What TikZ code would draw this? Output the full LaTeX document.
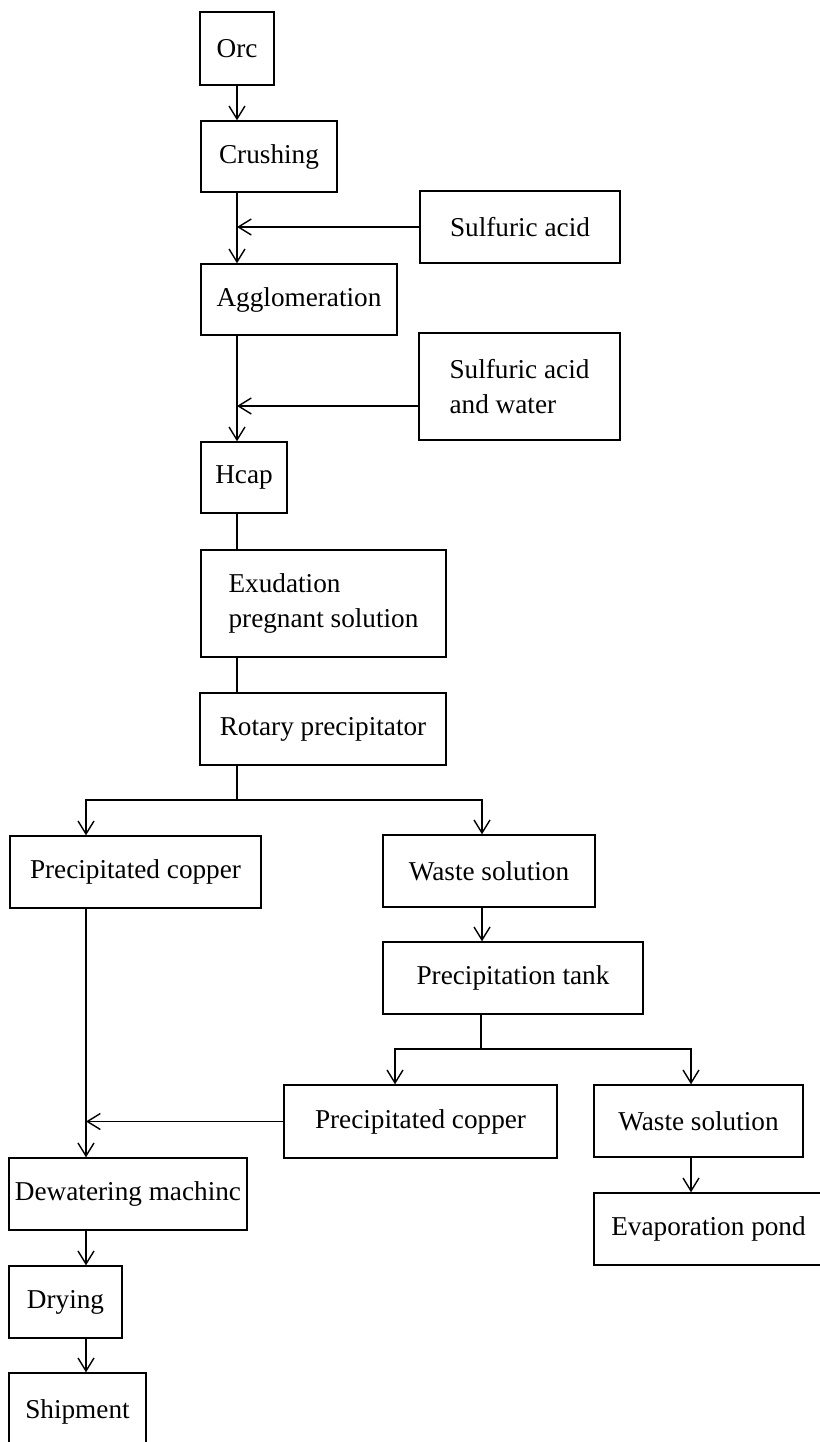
\documentclass[tikz,border=0pt]{standalone}
\usepackage{fontspec}
\setmainfont{Liberation Serif}
\usepackage{tikz}
\usetikzlibrary{arrows.meta}

\begin{document}
\begin{tikzpicture}[x=0.02cm,y=-0.02cm,
  box/.style={draw,line width=0.8pt,inner sep=1pt,font=\fontsize{15.5}{20}\selectfont},
  flow/.style={line width=0.8pt,-{Straight Barb[length=2.6mm,width=3.2mm,line width=0.8pt]}},
  link/.style={line width=0.8pt}]
\useasboundingbox (0,0) rectangle (820,1442);
% main column
\node[box,minimum width=1.48cm,minimum height=1.46cm] (ore) at (237,48.5) {Orc};
\node[box,minimum width=2.72cm,minimum height=1.42cm] (crush) at (269,156.5) {Crushing};
\node[box,minimum width=4.0cm,minimum height=1.44cm] (acid) at (520,227) {Sulfuric acid};
\node[box,minimum width=3.92cm,minimum height=1.42cm] (agglo) at (299,299.5) {Agglomeration};
\node[box,minimum width=4.02cm,minimum height=2.14cm,align=left] (acidw) at (519.5,386.5) {Sulfuric acid\\and water};
\node[box,minimum width=1.72cm,minimum height=1.42cm] (heap) at (244,477.5) {Hcap};
\node[box,minimum width=4.9cm,minimum height=2.14cm,align=left] (exud) at (323.5,603.5) {Exudation\\pregnant solution};
\node[box,minimum width=4.92cm,minimum height=1.44cm] (rotary) at (323,729) {Rotary precipitator};
% branches
\node[box,minimum width=5.02cm,minimum height=1.44cm] (pcu1) at (135.5,872) {Precipitated copper};
\node[box,minimum width=4.24cm,minimum height=1.44cm] (waste1) at (489,871) {Waste solution};
\node[box,minimum width=5.2cm,minimum height=1.44cm] (tank) at (513,978) {Precipitation tank};
\node[box,minimum width=5.46cm,minimum height=1.46cm] (pcu2) at (420.5,1121.5) {Precipitated copper};
\node[box,minimum width=4.18cm,minimum height=1.44cm] (waste2) at (698.5,1121) {Waste solution};
\node[box,minimum width=4.58cm,minimum height=1.44cm] (evap) at (708.5,1229) {Evaporation pond};
\node[box,minimum width=4.76cm,minimum height=1.44cm] (dewater) at (128,1194) {Dewatering machinc};
\node[box,minimum width=2.26cm,minimum height=1.44cm] (dry) at (65.5,1302) {Drying};
\node[box,minimum width=2.74cm,minimum height=1.54cm] (ship) at (77.5,1411.5) {Shipment};
% split points
\coordinate (s1) at (237,800);
\coordinate (l1) at (86,800);
\coordinate (r1) at (482,800);
\coordinate (s2) at (481,1049);
\coordinate (l2) at (395,1049);
\coordinate (r2) at (691,1049);
% connectors
\draw[flow] (ore) -- (crush.north -| ore);
\draw[flow] (crush.south -| ore) -- (agglo.north -| ore);
\draw[flow] (acid) -- (acid -| ore);
\draw[flow] (agglo.south -| ore) -- (heap.north -| ore);
\draw[flow] ([yshift=-0.39cm]acidw.west) -- ([yshift=-0.39cm]acidw.west -| ore);
\draw[link] (heap.south -| ore) -- (exud.north -| ore);
\draw[link] (exud.south -| ore) -- (rotary.north -| ore);
\draw[link] (rotary.south -| ore) -- (s1);
\draw[flow] (s1) -| (pcu1.north -| l1);
\draw[flow] (s1) -| (waste1.north -| r1);
\draw[flow] (waste1.south -| r1) -- (tank.north -| r1);
\draw[link] (tank.south -| s2) -- (s2);
\draw[flow] (s2) -| (pcu2.north -| l2);
\draw[flow] (s2) -| (waste2.north -| r2);
\draw[flow] (waste2.south -| r2) -- (evap.north -| r2);
\draw[flow] (pcu2) -- (pcu2 -| l1);
\draw[flow] (pcu1.south -| l1) -- (dewater.north -| l1);
\draw[flow] (dewater.south -| l1) -- (dry.north -| l1);
\draw[flow] (dry.south -| l1) -- (ship.north -| l1);
\end{tikzpicture}
\end{document}
